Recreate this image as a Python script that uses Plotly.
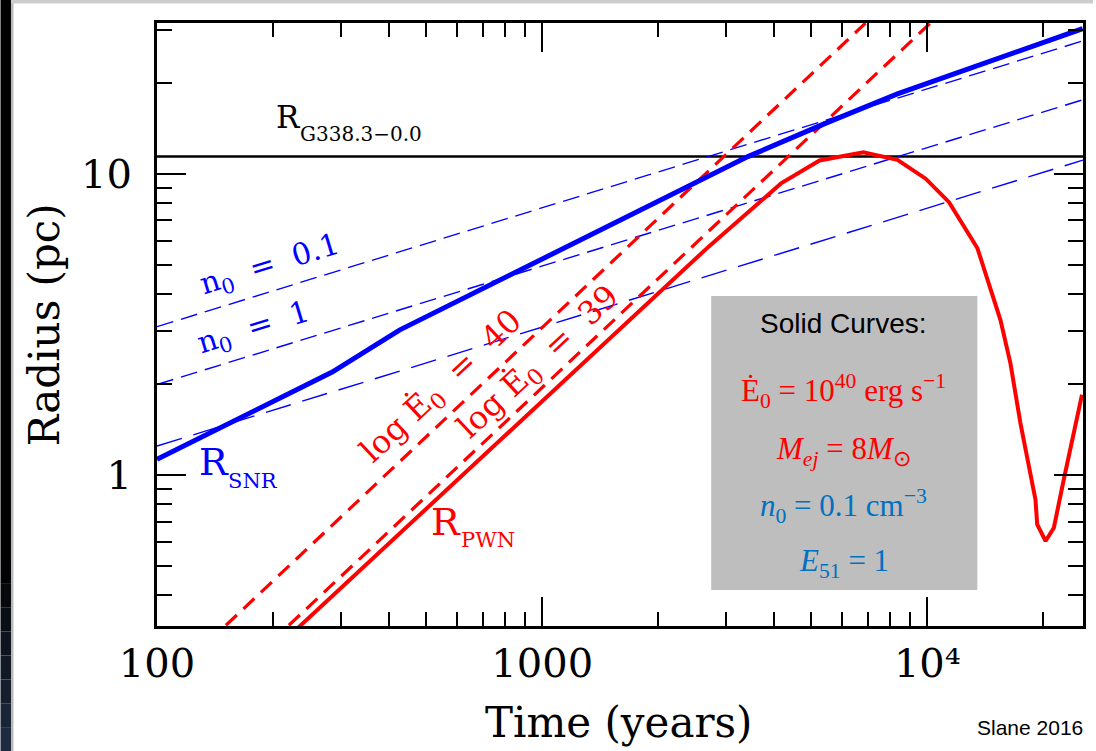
import plotly.graph_objects as go

# ---------------- data ----------------
# SNR radius (solid blue)
t_snr = [100, 285, 426, 1000, 2540, 3420, 5510, 8360, 25300]
r_snr = [1.13, 2.2, 3.03, 5.2, 9.36, 11.4, 14.8, 18.4, 30.3]

# Sedov solutions (thin blue dashed) for n0 = 0.1, 1, 10
t_sedov = [100, 25350]
r_sedov_n01 = [3.11, 27.6]
r_sedov_n1 = [2.0, 17.6]
r_sedov_n10 = [1.25, 11.1]

# PWN free-expansion (red dashed) for log E0 = 40, 39
t_e40 = [151, 6910]
r_e40 = [0.318, 31.6]
t_e39 = [220, 10180]
r_e39 = [0.318, 31.6]

# PWN radius (solid red)
t_pwn = [200, 385, 1000, 2000, 2700, 4170, 5250, 6820, 8360, 9900, 11380,
         13490, 14300, 15480, 16430, 17440, 19080, 19280, 20270, 21300,
         22600, 25200]
r_pwn = [0.261, 0.568, 1.75, 4.0, 5.72, 9.29, 11.07, 11.79, 11.12, 9.63,
         8.05, 5.66, 4.44, 3.27, 2.35, 1.49, 0.831, 0.687, 0.605, 0.67,
         0.968, 1.85]

# Radius of G338.3-0.0 (horizontal black line)
t_g338 = [100, 25350]
r_g338 = [11.4, 11.4]

# Tick values and labels
x_major = [100, 1000, 10000]
x_major_text = ["100", "1000", "10\u2074"]
x_minor = [200, 300, 400, 500, 600, 700, 800, 900,
           2000, 3000, 4000, 5000, 6000, 7000, 8000, 9000, 20000]
y_major = [1, 10]
y_major_text = ["1", "10"]
y_minor = [0.4, 0.5, 0.6, 0.7, 0.8, 0.9, 2, 3, 4, 5, 6, 7, 8, 9, 20, 30]

# ---------------- layout geometry ----------------
W, H = 1096, 751
ML, MR, MT, MB = 157, 10, 23, 125
PW, PH = W - ML - MR, H - MT - MB


def px(x):
    return (x - ML) / PW


def py(y):
    return (H - MB - y) / PH


BLUE = "rgb(0,0,255)"
RED = "rgb(255,0,0)"
OBLUE = "rgb(0,112,192)"
SERIF = "DejaVu Serif"
MATH = "Liberation Serif"
SANS = "Liberation Sans"

fig = go.Figure()

# horizontal reference line
fig.add_trace(go.Scatter(x=t_g338, y=r_g338, mode="lines",
                         line=dict(color="black", width=2.5)))
# Sedov dashed lines
fig.add_trace(go.Scatter(x=t_sedov, y=r_sedov_n01, mode="lines",
                         line=dict(color=BLUE, width=1.4, dash="17px,8px")))
fig.add_trace(go.Scatter(x=t_sedov, y=r_sedov_n1, mode="lines",
                         line=dict(color=BLUE, width=1.4, dash="17px,8px")))
fig.add_trace(go.Scatter(x=t_sedov, y=r_sedov_n10, mode="lines",
                         line=dict(color=BLUE, width=1.4, dash="26px,12px")))
# PWN dashed lines
fig.add_trace(go.Scatter(x=t_e40, y=r_e40, mode="lines",
                         line=dict(color=RED, width=3.2, dash="15px,9px")))
fig.add_trace(go.Scatter(x=t_e39, y=r_e39, mode="lines",
                         line=dict(color=RED, width=3.2, dash="15px,9px")))
# solid curves
fig.add_trace(go.Scatter(x=t_snr, y=r_snr, mode="lines",
                         line=dict(color=BLUE, width=5)))
fig.add_trace(go.Scatter(x=t_pwn, y=r_pwn, mode="lines",
                         line=dict(color=RED, width=4)))

axis_common = dict(
    type="log", showgrid=False, zeroline=False,
    showline=True, linecolor="black", linewidth=3,
    mirror="allticks", ticks="inside", ticklen=29, tickwidth=2,
    tickcolor="black", tickmode="array",
    tickfont=dict(family=SERIF, size=40, color="black"),
)

fig.update_xaxes(
    range=[2, 4.404], tickvals=x_major, ticktext=x_major_text,
    ticklabelstandoff=0,
    minor=dict(tickmode="array", tickvals=x_minor, ticks="inside",
               ticklen=14, tickwidth=2, tickcolor="black", showgrid=False),
    **axis_common)
fig.update_yaxes(
    range=[-0.5, 1.5], tickvals=y_major, ticktext=y_major_text,
    ticklabelstandoff=14,
    minor=dict(tickmode="array", tickvals=y_minor, ticks="inside",
               ticklen=15, tickwidth=2, tickcolor="black", showgrid=False),
    **axis_common)

shapes = []
# dark strip at the left edge (approximate gradient)
shapes.append(dict(type="rect", xref="paper", yref="paper",
                   x0=px(0), x1=px(10.5), y0=py(560), y1=py(0),
                   fillcolor="black", line=dict(width=0), layer="above"))
steps = 8
for i in range(steps):
    ya = 560 + i * (751 - 560) / steps
    yb = 560 + (i + 1) * (751 - 560) / steps
    f = (i + 0.5) / steps
    col = "rgb(%d,%d,%d)" % (int(32 * f), int(45 * f), int(68 * f))
    shapes.append(dict(type="rect", xref="paper", yref="paper",
                       x0=px(0), x1=px(10.5), y0=py(yb), y1=py(ya),
                       fillcolor=col, line=dict(width=0), layer="above"))
shapes.append(dict(type="rect", xref="paper", yref="paper",
                   x0=px(10.5), x1=px(13), y0=py(751), y1=py(0),
                   fillcolor="rgb(185,185,185)", line=dict(width=0),
                   layer="above"))
shapes.append(dict(type="rect", xref="paper", yref="paper",
                   x0=px(10.5), x1=px(1096), y0=py(3.5), y1=py(0),
                   fillcolor="rgb(205,205,205)", line=dict(width=0),
                   layer="above"))
# gray info box
shapes.append(dict(type="rect", xref="paper", yref="paper",
                   x0=px(713), x1=px(980), y0=py(590), y1=py(296),
                   fillcolor="rgb(190,190,190)", line=dict(width=0),
                   layer="above"))

annotations = []


def ann(text, x, y, size, color, family=SERIF, angle=0, xanchor="center",
        yanchor="middle"):
    annotations.append(dict(text=text, x=px(x), y=py(y), xref="paper",
                            yref="paper", showarrow=False, textangle=angle,
                            xanchor=xanchor, yanchor=yanchor,
                            font=dict(family=family, size=size, color=color)))


NB = "\u00a0"
# R_G338.3-0.0
ann("R", 274, 117, 31, "black", xanchor="left")
ann("G338.3\u22120.0", 298, 134, 20, "black", xanchor="left")
# n0 labels
ann("n<sub>0</sub>" + NB * 2 + "=" + NB * 2 + "0.1", 270, 265, 30, BLUE,
    angle=-17)
ann("n<sub>0</sub>" + NB * 2 + "=" + NB * 2 + "1", 254, 328, 30, BLUE,
    angle=-17)
# R_SNR
ann("R", 197, 462, 38, BLUE, xanchor="left")
ann("SNR", 226, 481, 21, BLUE, xanchor="left")
# log E0 labels
ann("log" + NB + "\u0116<sub>0</sub>" + NB * 2 + "=" + NB * 2 + "40",
    443, 387, 32, RED, angle=-43)
ann("log" + NB + "\u0116<sub>0</sub>" + NB * 2 + "=" + NB * 2 + "39",
    540, 363, 32, RED, angle=-43)
# R_PWN
ann("R", 430, 522, 38, RED, xanchor="left")
ann("PWN", 460, 540, 21, RED, xanchor="left")

# box text
ann("Solid Curves:", 846, 323, 28, "black", family=SANS)
ann("\u0116<sub>0</sub> = 10<sup>40</sup> erg" + NB + "s<sup>\u22121</sup>",
    846, 391, 31, RED, family=MATH)
ann("<i>M<sub>ej</sub></i> = 8<i>M</i><sub>\u2299</sub>", 846, 451, 31, RED,
    family=MATH)
ann("<i>n</i><sub>0</sub> = 0.1" + NB + "cm<sup>\u22123</sup>", 846, 506, 31,
    OBLUE, family=MATH)
ann("<i>E</i><sub>51</sub> = 1", 846, 563, 31, OBLUE, family=MATH)

# axis titles
ann("Time (years)", 620, 722, 42, "black")
ann("Radius (pc)", 45, 325, 42, "black", angle=-90)

# credit
ann("Slane 2016", 1088, 728, 21, "black", family=SANS, xanchor="right")

fig.update_layout(
    width=W, height=H,
    margin=dict(l=ML, r=MR, t=MT, b=MB, pad=0),
    paper_bgcolor="white", plot_bgcolor="white",
    showlegend=False,
    shapes=shapes, annotations=annotations,
)

fig.write_html("out.html")
